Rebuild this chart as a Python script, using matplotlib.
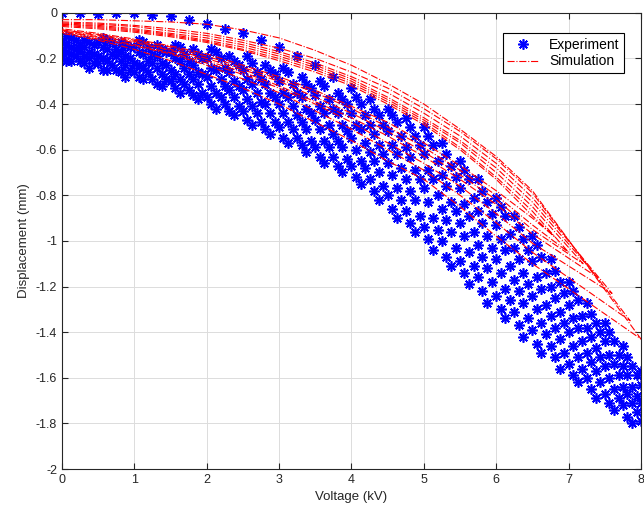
import matplotlib
matplotlib.use('Agg')
import matplotlib.pyplot as plt

# ---------------- Experiment (blue asterisks) ----------------
# Four voltage grids, sweeps alternate between them.
volt_a = [0.0, 0.25, 0.5, 0.75, 1.0, 1.25, 1.5, 1.75, 2.0, 2.25, 2.5, 2.75, 3.0, 3.25, 3.5, 3.75, 4.0,
          4.25, 4.5, 4.75, 5.0, 5.25, 5.5, 5.75, 6.0, 6.25, 6.5, 6.75, 7.0, 7.25, 7.5, 7.75, 8.0]
volt_b = [0.125, 0.375, 0.625, 0.875, 1.125, 1.375, 1.625, 1.875, 2.125, 2.375, 2.625, 2.875, 3.125,
          3.375, 3.625, 3.875, 4.125, 4.375, 4.625, 4.875, 5.125, 5.375, 5.625, 5.875, 6.125, 6.375,
          6.625, 6.875, 7.125, 7.375, 7.625, 7.875]
volt_c = [0.06, 0.31, 0.56, 0.81, 1.06, 1.31, 1.56, 1.81, 2.06, 2.31, 2.56, 2.81, 3.06, 3.31, 3.56,
          3.81, 4.06, 4.31, 4.56, 4.81, 5.06, 5.31, 5.56, 5.81, 6.06, 6.31, 6.56, 6.81, 7.06, 7.31,
          7.56, 7.81]
volt_d = [0.19, 0.44, 0.69, 0.94, 1.19, 1.44, 1.69, 1.94, 2.19, 2.44, 2.69, 2.94, 3.19, 3.44, 3.69,
          3.94, 4.19, 4.44, 4.69, 4.94, 5.19, 5.44, 5.69, 5.94, 6.19, 6.44, 6.69, 6.94, 7.19, 7.44,
          7.69, 7.94]

sweep_0 = [0.0, 0.0, -0.005, 0.0, 0.0, -0.01, -0.015, -0.03, -0.05, -0.07, -0.09, -0.12, -0.15, -0.19,
           -0.23, -0.28, -0.33, -0.38, -0.42, -0.46, -0.50, -0.57, -0.65, -0.73, -0.81, -0.89, -0.98,
           -1.08, -1.18, -1.27, -1.36, -1.46, -1.57]
sweep_1 = [-0.11, -0.13, -0.12, -0.14, -0.13, -0.16, -0.15, -0.18, -0.17, -0.21, -0.22, -0.25, -0.26,
           -0.31, -0.32, -0.38, -0.40, -0.45, -0.48, -0.54, -0.58, -0.67, -0.73, -0.83, -0.89, -0.99,
           -1.07, -1.18, -1.26, -1.36, -1.44, -1.55]
sweep_2 = [-0.13, -0.14, -0.13, -0.16, -0.15, -0.18, -0.17, -0.21, -0.20, -0.24, -0.25, -0.29, -0.30,
           -0.35, -0.36, -0.42, -0.44, -0.49, -0.52, -0.59, -0.62, -0.71, -0.77, -0.87, -0.93, -1.03,
           -1.09, -1.20, -1.28, -1.38, -1.44, -1.55, -1.63]
sweep_3 = [-0.15, -0.17, -0.16, -0.19, -0.18, -0.22, -0.21, -0.26, -0.25, -0.30, -0.31, -0.35, -0.37,
           -0.42, -0.44, -0.49, -0.51, -0.58, -0.62, -0.69, -0.73, -0.83, -0.89, -0.98, -1.04, -1.14,
           -1.21, -1.31, -1.38, -1.47, -1.54, -1.64]
sweep_4 = [-0.17, -0.16, -0.19, -0.19, -0.22, -0.22, -0.25, -0.27, -0.28, -0.32, -0.34, -0.39, -0.40,
           -0.45, -0.47, -0.53, -0.55, -0.61, -0.66, -0.73, -0.77, -0.86, -0.92, -1.02, -1.08, -1.17,
           -1.24, -1.33, -1.40, -1.49, -1.55, -1.64, -1.71]
sweep_5 = [-0.18, -0.20, -0.21, -0.23, -0.24, -0.27, -0.29, -0.31, -0.35, -0.37, -0.41, -0.44, -0.48,
           -0.51, -0.56, -0.59, -0.65, -0.70, -0.77, -0.82, -0.90, -0.96, -1.05, -1.12, -1.21, -1.27,
           -1.36, -1.43, -1.51, -1.57, -1.65, -1.71]
sweep_6 = [-0.20, -0.21, -0.22, -0.25, -0.26, -0.29, -0.30, -0.34, -0.37, -0.40, -0.43, -0.48, -0.50,
           -0.55, -0.59, -0.63, -0.67, -0.73, -0.80, -0.87, -0.94, -1.00, -1.09, -1.16, -1.24, -1.31,
           -1.39, -1.46, -1.54, -1.60, -1.67, -1.72, -1.79]
sweep_7 = [-0.21, -0.24, -0.25, -0.28, -0.29, -0.32, -0.35, -0.38, -0.42, -0.45, -0.49, -0.53, -0.57,
           -0.61, -0.66, -0.70, -0.75, -0.82, -0.90, -0.96, -1.04, -1.11, -1.19, -1.27, -1.34, -1.42,
           -1.49, -1.56, -1.62, -1.69, -1.74, -1.80]
sweep_8 = [-0.10, -0.12, -0.11, -0.13, -0.12, -0.14, -0.14, -0.16, -0.16, -0.19, -0.19, -0.23, -0.24,
           -0.28, -0.30, -0.35, -0.37, -0.42, -0.45, -0.50, -0.54, -0.62, -0.69, -0.78, -0.85, -0.94,
           -1.02, -1.13, -1.22, -1.32, -1.40, -1.51]
sweep_9 = [-0.12, -0.14, -0.13, -0.15, -0.15, -0.17, -0.18, -0.20, -0.20, -0.23, -0.26, -0.27, -0.31,
           -0.33, -0.38, -0.40, -0.45, -0.49, -0.54, -0.58, -0.65, -0.72, -0.81, -0.88, -0.97, -1.04,
           -1.14, -1.23, -1.33, -1.40, -1.50, -1.59]
sweep_10 = [-0.14, -0.15, -0.15, -0.17, -0.17, -0.19, -0.20, -0.23, -0.24, -0.26, -0.29, -0.31, -0.35,
            -0.37, -0.41, -0.44, -0.49, -0.53, -0.58, -0.63, -0.69, -0.76, -0.84, -0.92, -0.99, -1.08,
            -1.16, -1.25, -1.34, -1.42, -1.50, -1.59]
sweep_11 = [-0.16, -0.18, -0.18, -0.20, -0.21, -0.23, -0.24, -0.27, -0.29, -0.32, -0.35, -0.37, -0.41,
            -0.44, -0.49, -0.52, -0.57, -0.62, -0.68, -0.73, -0.80, -0.87, -0.96, -1.03, -1.11, -1.19,
            -1.28, -1.36, -1.44, -1.51, -1.59, -1.68]
sweep_12 = [-0.17, -0.19, -0.20, -0.21, -0.23, -0.24, -0.27, -0.29, -0.32, -0.34, -0.38, -0.40, -0.44,
            -0.48, -0.51, -0.56, -0.60, -0.65, -0.71, -0.78, -0.83, -0.91, -0.98, -1.07, -1.14, -1.22,
            -1.30, -1.38, -1.46, -1.53, -1.60, -1.67]
sweep_13 = [-0.19, -0.22, -0.23, -0.25, -0.26, -0.29, -0.31, -0.35, -0.37, -0.41, -0.44, -0.48, -0.51,
            -0.56, -0.59, -0.64, -0.68, -0.76, -0.82, -0.89, -0.95, -1.03, -1.11, -1.18, -1.26, -1.34,
            -1.41, -1.49, -1.56, -1.62, -1.69, -1.75]
sweep_14 = [-0.21, -0.22, -0.25, -0.26, -0.28, -0.31, -0.33, -0.36, -0.40, -0.43, -0.47, -0.51, -0.55,
            -0.58, -0.63, -0.67, -0.72, -0.78, -0.86, -0.92, -0.99, -1.07, -1.14, -1.22, -1.30, -1.37,
            -1.45, -1.51, -1.59, -1.65, -1.71, -1.77]

exp_sweeps = [(volt_a, sweep_0), (volt_b, sweep_1), (volt_a, sweep_2), (volt_b, sweep_3),
              (volt_a, sweep_4), (volt_b, sweep_5), (volt_a, sweep_6), (volt_b, sweep_7),
              (volt_c, sweep_8), (volt_d, sweep_9), (volt_c, sweep_10), (volt_d, sweep_11),
              (volt_c, sweep_12), (volt_d, sweep_13), (volt_c, sweep_14)]

# ---------------- Simulation (red dash-dot hysteresis loops) ----------------
loop_volt = [0.0, 0.5, 1.0, 1.5, 2.0, 2.5, 3.0, 3.5, 4.0, 4.5, 5.0, 5.5, 6.0, 6.5]

loop_tip_v = [8.0, 7.85, 7.6, 7.4, 7.2, 7.0, 6.8]
loop_tip_d = [-1.43, -1.35, -1.23, -1.16, -1.10, -1.05, -0.98]

loop_upper = [
    [-0.03, -0.03, -0.035, -0.04, -0.05, -0.075, -0.11, -0.165, -0.23, -0.31, -0.40, -0.51, -0.63, -0.78],
    [-0.04, -0.045, -0.055, -0.07, -0.09, -0.12, -0.155, -0.20, -0.26, -0.33, -0.42, -0.52, -0.64, -0.79],
    [-0.045, -0.05, -0.06, -0.08, -0.10, -0.13, -0.17, -0.22, -0.28, -0.35, -0.44, -0.54, -0.66, -0.81],
    [-0.05, -0.055, -0.07, -0.09, -0.11, -0.14, -0.18, -0.23, -0.29, -0.37, -0.46, -0.56, -0.68, -0.83],
    [-0.05, -0.06, -0.075, -0.095, -0.12, -0.15, -0.19, -0.24, -0.30, -0.38, -0.47, -0.57, -0.70, -0.85],
    [-0.055, -0.065, -0.08, -0.10, -0.125, -0.16, -0.20, -0.25, -0.31, -0.39, -0.48, -0.59, -0.72, -0.87],
    [-0.06, -0.07, -0.085, -0.105, -0.13, -0.165, -0.21, -0.26, -0.32, -0.40, -0.49, -0.60, -0.73, -0.89],
]
loop_lower = [
    [-0.09, -0.12, -0.16, -0.21, -0.27, -0.33, -0.40, -0.48, -0.56, -0.65, -0.73, -0.85, -0.98, -1.10],
    [-0.085, -0.115, -0.145, -0.18, -0.23, -0.29, -0.35, -0.43, -0.51, -0.60, -0.69, -0.80, -0.92, -1.05],
    [-0.08, -0.11, -0.14, -0.175, -0.22, -0.27, -0.33, -0.40, -0.48, -0.57, -0.66, -0.76, -0.88, -1.01],
    [-0.08, -0.105, -0.13, -0.165, -0.21, -0.26, -0.32, -0.39, -0.46, -0.54, -0.63, -0.73, -0.84, -0.97],
    [-0.075, -0.10, -0.125, -0.16, -0.20, -0.25, -0.30, -0.37, -0.44, -0.52, -0.61, -0.71, -0.82, -0.95],
    [-0.075, -0.095, -0.12, -0.15, -0.19, -0.24, -0.29, -0.35, -0.42, -0.50, -0.59, -0.69, -0.80, -0.93],
    [-0.07, -0.09, -0.115, -0.145, -0.18, -0.23, -0.28, -0.34, -0.41, -0.48, -0.57, -0.67, -0.78, -0.90],
]

x_ticks = [0, 1, 2, 3, 4, 5, 6, 7, 8]
y_ticks = [-2, -1.8, -1.6, -1.4, -1.2, -1, -0.8, -0.6, -0.4, -0.2, 0]
y_tick_labels = ['-2', '-1.8', '-1.6', '-1.4', '-1.2', '-1', '-0.8', '-0.6', '-0.4', '-0.2', '0']

''' ---------------------------------------- plotting ---------------------------------------- '''
plt.rcParams['font.family'] = ['Liberation Sans', 'DejaVu Sans']
axis_grey = '#262626'

fig = plt.figure(figsize=(6.44, 5.19), dpi=100)
ax = fig.add_axes([0.0963, 0.0963, 0.899, 0.879])

asterisk = (8, 2, 0)
for idx, (v, d) in enumerate(exp_sweeps):
    ax.plot(v, d, linestyle='none', marker=asterisk, markersize=7.5, markeredgewidth=1.2,
            color='#0000ff', label='Experiment' if idx == 0 else None, zorder=2)

for k in range(len(loop_tip_v)):
    xs = loop_volt + [loop_tip_v[k]] + loop_volt[::-1]
    ys = loop_upper[k] + [loop_tip_d[k]] + loop_lower[k][::-1]
    ax.plot(xs, ys, linestyle='-.', color='#ff0000', linewidth=0.8,
            label='Simulation' if k == 0 else None, zorder=3)

ax.set_xlim(0, 8)
ax.set_ylim(-2, 0)
ax.set_xticks(x_ticks)
ax.set_yticks(y_ticks)
ax.set_yticklabels(y_tick_labels)
ax.grid(True, color='#dcdcdc', linewidth=0.7)
ax.set_axisbelow(True)
ax.tick_params(direction='in', top=True, right=True, length=4, width=0.8,
               colors=axis_grey, labelsize=9)
for spine in ax.spines.values():
    spine.set_color(axis_grey)
    spine.set_linewidth(0.8)

ax.set_xlabel('Voltage (kV)', fontsize=9.5, color=axis_grey)
ax.set_ylabel('Displacement (mm)', fontsize=9.5, color=axis_grey)

leg = ax.legend(loc='upper right', fontsize=10, fancybox=False, framealpha=1,
                edgecolor='black', borderpad=0.3, handlelength=2.2, labelspacing=0.2,
                bbox_to_anchor=(0.982, 0.97))
leg.get_frame().set_linewidth(0.8)

plt.savefig('out.png', dpi=100)
